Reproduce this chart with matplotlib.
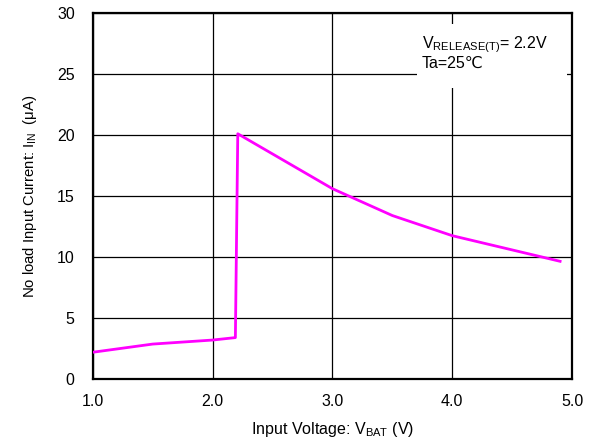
import matplotlib
matplotlib.use("Agg")
import matplotlib.pyplot as plt
from matplotlib.patches import Rectangle

plt.rcParams['font.family'] = ['Liberation Sans', 'DejaVu Sans']
plt.rcParams['mathtext.fontset'] = 'custom'
plt.rcParams['mathtext.rm'] = 'Liberation Sans'
plt.rcParams['mathtext.it'] = 'Liberation Sans'

v_bat = [1.0, 1.5, 2.0, 2.19, 2.21, 3.0, 3.5, 4.0, 4.9]
i_in = [2.2, 2.87, 3.2, 3.4, 20.1, 15.6, 13.4, 11.75, 9.65]

x_ticks = [1.0, 2.0, 3.0, 4.0, 5.0]
x_tick_labels = ["1.0", "2.0", "3.0", "4.0", "5.0"]
y_ticks = [0, 5, 10, 15, 20, 25, 30]

fig = plt.figure(figsize=(5.91, 4.46), dpi=100)
ax = fig.add_axes([0.157, 0.150, 0.811, 0.821])

ax.plot(v_bat, i_in, color='#ff00ff', lw=2.0, zorder=3)

ax.set_xlim(1.0, 5.0)
ax.set_ylim(0, 30)
ax.set_xticks(x_ticks)
ax.set_xticklabels(x_tick_labels)
ax.set_yticks(y_ticks)
ax.tick_params(axis='x', length=0, labelsize=11.5, pad=11)
ax.tick_params(axis='y', length=0, labelsize=11.5, pad=13)
ax.grid(True, color='black', lw=0.9)
ax.set_axisbelow(True)
for s in ax.spines.values():
    s.set_linewidth(1.6)
    s.set_color('black')

ax.set_xlabel(r"Input Voltage: V$_{\mathrm{BAT}}$ (V)", fontsize=11.5, labelpad=8)
ax.set_ylabel(r"No load Input Current: I$_{\mathrm{IN}}$  (μA)", fontsize=10.7, labelpad=13)

ax.add_patch(Rectangle((0.676, 0.795), 0.314, 0.175, transform=ax.transAxes,
                       facecolor='white', edgecolor='none', zorder=2))
ax.text(0.687, 0.913, r"V$_{\mathrm{RELEASE(T)}}$= 2.2V", transform=ax.transAxes,
        fontsize=11.5, va='center', ha='left', zorder=4)
ax.text(0.687, 0.861, "Ta=25\u2103", transform=ax.transAxes,
        fontsize=11.5, va='center', ha='left', zorder=4)

fig.savefig("out.png", dpi=100)
